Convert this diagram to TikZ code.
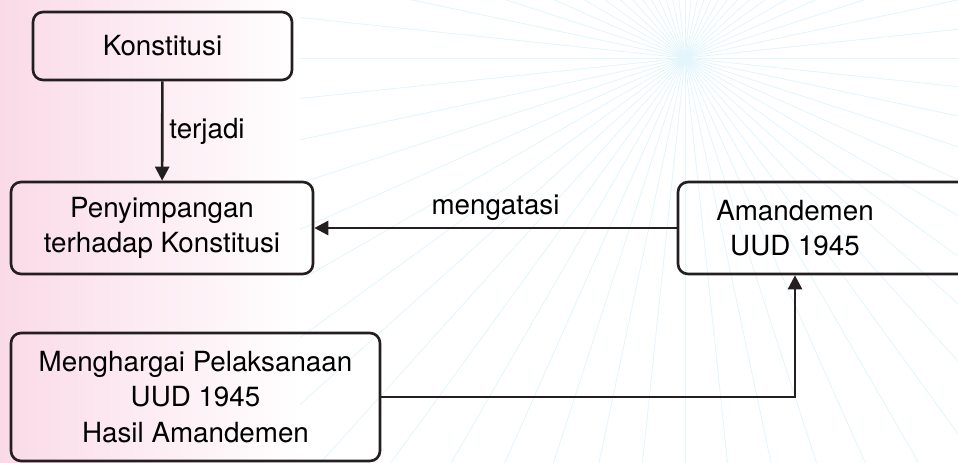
\documentclass[tikz,border=0pt]{standalone}
\usepackage{fontspec}
\setmainfont{TeX Gyre Heros}
\usetikzlibrary{arrows.meta}
\definecolor{raycyan}{RGB}{228,245,252}
\definecolor{pinkbg}{RGB}{250,218,231}
\definecolor{boxline}{RGB}{35,31,32}

\begin{document}
\begin{tikzpicture}[x=0.02cm, y=-0.02cm,
    font=\fontsize{15.8}{20}\selectfont,
    box/.style={draw=boxline, line width=1.5pt, rounded corners=0.2cm, align=center, inner sep=0pt},
    conn/.style={draw=boxline, line width=1.5pt, -{Triangle[width=0.28cm,length=0.28cm]}}]
    \useasboundingbox (0,0) rectangle (958,463);

    % Background: rays and pink fade
    \begin{scope}
        \clip (0,0) rectangle (958,463);
        \shade[inner color=raycyan, outer color=white] (685,58) circle (0.18cm);
        \foreach \a in {0,6,...,354}
            \draw[raycyan, line width=0.5pt] (685,58) -- ++(\a:1200);
        \shade[left color=pinkbg, right color=white] (0,0) rectangle (300,463);
    \end{scope}

    % Boxes
    \node[box, minimum width=5.18cm, minimum height=1.36cm] (konst) at (162.5,46) {Konstitusi};
    \node[box, minimum width=6.04cm, minimum height=1.84cm] (peny) at (162,228) {Penyimpangan\\terhadap Konstitusi};
    \node[box, minimum width=6cm, minimum height=1.84cm] (amand) at (828,228) {};
    \node[align=center] (amandtxt) at (795,228) {Amandemen\\UUD 1945};
    \node[box, minimum width=7.38cm, minimum height=2.56cm] (mengh) at (195.5,397) {Menghargai Pelaksanaan\\UUD 1945\\Hasil Amandemen};

    % Connectors
    \draw[conn] (konst) -- node[midway, right] {terjadi} (peny);
    \draw[conn] (amand.west) -- node[midway, above] {mengatasi} (peny.east);
    \draw[conn] (mengh.east) -| (amand.south -| amandtxt);
\end{tikzpicture}
\end{document}
